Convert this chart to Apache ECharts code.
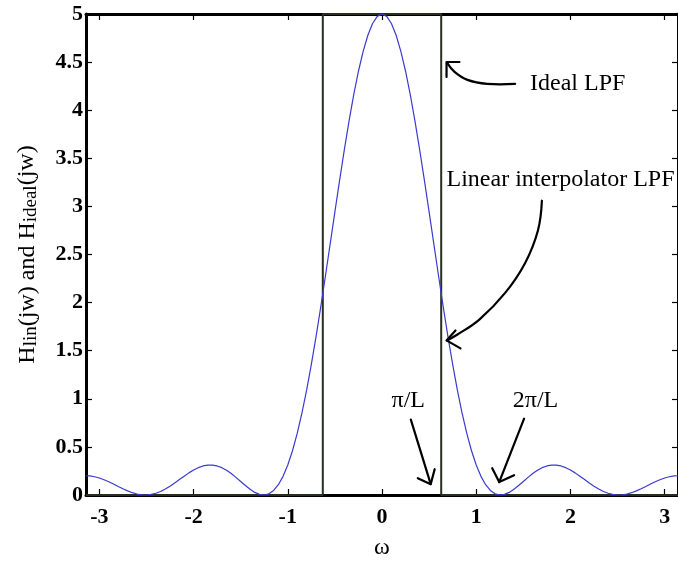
<!DOCTYPE html>
<html>
<head>
<meta charset="utf-8">
<script src="https://cdn.jsdelivr.net/npm/echarts@6/dist/echarts.min.js"></script>
<style>html,body{margin:0;padding:0;background:#fff;}#c{width:678px;height:565px;}</style>
</head>
<body>
<div id="c"></div>
<script>
// ---- data ----
const omega = [-3.1416,-3.1,-3.05,-3,-2.95,-2.9,-2.85,-2.8,-2.75,-2.7,-2.65,-2.6,-2.55,-2.5,-2.45,-2.4,-2.35,-2.3,-2.25,-2.2,-2.15,-2.1,-2.05,-2,-1.95,-1.9,-1.85,-1.8,-1.75,-1.7,-1.65,-1.6,-1.55,-1.5,-1.45,-1.4,-1.35,-1.3,-1.25,-1.2,-1.15,-1.1,-1.05,-1,-0.95,-0.9,-0.85,-0.8,-0.75,-0.7,-0.65,-0.6,-0.55,-0.5,-0.45,-0.4,-0.35,-0.3,-0.25,-0.2,-0.15,-0.1,-0.05,0,0.05,0.1,0.15,0.2,0.25,0.3,0.35,0.4,0.45,0.5,0.55,0.6,0.65,0.7,0.75,0.8,0.85,0.9,0.95,1,1.05,1.1,1.15,1.2,1.25,1.3,1.35,1.4,1.45,1.5,1.55,1.6,1.65,1.7,1.75,1.8,1.85,1.9,1.95,2,2.05,2.1,2.15,2.2,2.25,2.3,2.35,2.4,2.45,2.5,2.55,2.6,2.65,2.7,2.75,2.8,2.85,2.9,2.95,3,3.05,3.1,3.1416];
const hLin = [0.2,0.198,0.190,0.177,0.159,0.138,0.114,0.089,0.065,0.043,0.024,0.010,0.002,0.000,0.006,0.018,0.037,0.062,0.092,0.125,0.161,0.196,0.230,0.260,0.284,0.302,0.311,0.311,0.302,0.284,0.257,0.223,0.183,0.141,0.098,0.059,0.027,0.006,0.000,0.012,0.047,0.107,0.194,0.312,0.460,0.640,0.851,1.090,1.357,1.647,1.956,2.279,2.610,2.943,3.271,3.588,3.887,4.161,4.405,4.612,4.779,4.901,4.975,5,4.975,4.901,4.779,4.612,4.405,4.161,3.887,3.588,3.271,2.943,2.610,2.279,1.956,1.647,1.357,1.090,0.851,0.640,0.460,0.312,0.194,0.107,0.047,0.012,0.000,0.006,0.027,0.059,0.098,0.141,0.183,0.223,0.257,0.284,0.302,0.311,0.311,0.302,0.284,0.260,0.230,0.196,0.161,0.125,0.092,0.062,0.037,0.018,0.006,0.000,0.002,0.010,0.024,0.043,0.065,0.089,0.114,0.138,0.159,0.177,0.190,0.198,0.2];
const idealX = [-3.1416,-0.6283,-0.6283,0.6283,0.6283,3.1416];
const idealY = [0,0,5,5,0,0];
const xTicks = [-3,-2,-1,0,1,2,3];
const yTicks = [0,0.5,1,1.5,2,2.5,3,3.5,4,4.5,5];
const xRange = [-3.1416, 3.1416];
const yRange = [0, 5];

// annotations (data units)
const annIdealText = [1.571, 4.274];
const annIdealCurve = [[1.413,4.274],[1.117,4.274],[0.907,4.315],[0.770,4.398],[0.690,4.495]];
const annIdealHead = [[0.685,4.346],[0.685,4.501],[0.822,4.501]];
const annLinText = [0.685, 3.275];
const annLinCurve = [[1.697,3.059],[1.655,2.750],[1.518,2.410],[1.307,2.101],[1.033,1.823],[0.801,1.668],[0.690,1.607]];
const annLinHead = [[0.780,1.710],[0.685,1.607],[0.833,1.524]];
const annPiText = [0.279, 0.978];
const annPiLine = [[0.306,0.783],[0.517,0.113]];
const annPiHead = [[0.380,0.175],[0.517,0.113],[0.559,0.268]];
const ann2PiText = [1.629, 0.978];
const ann2PiLine = [[1.508,0.793],[1.244,0.134]];
const ann2PiHead = [[1.170,0.278],[1.244,0.134],[1.402,0.206]];

const chart = echarts.init(document.getElementById('c'), null, {renderer:'canvas'});
const SERIF = '"Liberation Serif", "Times New Roman", serif';
const axLine = {show:true, onZero:false, lineStyle:{color:'#000', width:3}};
const axTick = (vals)=>({show:true, inside:true, length:6, customValues:vals, lineStyle:{color:'#000', width:1.2}});

chart.setOption({
  animation:false,
  backgroundColor:'#fff',
  textStyle:{fontFamily:SERIF},
  grid:{left:86, right:-4, top:14, bottom:66, containLabel:false},
  xAxis:[
    {type:'value', position:'bottom', min:xRange[0], max:xRange[1],
     axisLine:axLine, axisTick:axTick(xTicks),
     axisLabel:{customValues:xTicks, margin:11, fontFamily:SERIF, fontSize:22, fontWeight:'bold', color:'#000'},
     splitLine:{show:false},
     name:'ω', nameLocation:'middle', nameGap:41,
     nameTextStyle:{fontFamily:SERIF, fontSize:24, color:'#000'}},
    {type:'value', position:'top', min:xRange[0], max:xRange[1],
     axisLine:axLine, axisTick:axTick(xTicks), axisLabel:{show:false}, splitLine:{show:false}}
  ],
  yAxis:[
    {type:'value', position:'left', min:yRange[0], max:yRange[1], interval:0.5,
     axisLine:axLine, axisTick:axTick(yTicks),
     axisLabel:{margin:3, fontFamily:SERIF, fontSize:22, fontWeight:'bold', color:'#000'},
     splitLine:{show:false},
     name:'{n|H}{s|lin}{n|(jw) and H}{s|ideal}{p|(jw)}', nameLocation:'middle', nameGap:45,
     nameTextStyle:{fontFamily:SERIF, color:'#000',
       rich:{
         n:{fontFamily:SERIF, fontSize:24, color:'#000', lineHeight:26, verticalAlign:'middle'},
         s:{fontFamily:SERIF, fontSize:19, color:'#000', lineHeight:18, verticalAlign:'bottom'},
         p:{fontFamily:SERIF, fontSize:24, color:'#000', lineHeight:22, verticalAlign:'top'}
       }}},
    {type:'value', position:'right', min:yRange[0], max:yRange[1], interval:0.5,
     axisLine:axLine, axisTick:axTick(yTicks), axisLabel:{show:false}, splitLine:{show:false}}
  ],
  series:[
    {type:'line', name:'Ideal LPF', data:idealX.map((x,i)=>[x,idealY[i]]), showSymbol:false, clip:false,
     lineStyle:{color:'#27301f', width:2}, z:2},
    {type:'line', name:'Linear interpolator LPF', data:omega.map((x,i)=>[x,hLin[i]]), showSymbol:false, clip:true,
     smooth:false, lineStyle:{color:'#3a3ad0', width:1.2}, z:3}
  ]
});

const P = p => chart.convertToPixel({gridIndex:0}, p);
const annFont = {fontFamily:SERIF, fontSize:24, fill:'#000'};
const txt = (t, p, align) => { const q = P(p); return {type:'text', z:10, style:Object.assign({text:t, x:q[0], y:q[1], align:align, verticalAlign:'middle'}, annFont)}; };
const pl = (pts, smooth) => ({type:'polyline', z:10, shape:{points:pts.map(P), smooth:smooth||0}, style:{stroke:'#000', lineWidth:2.2, fill:null, lineJoin:'round', lineCap:'round'}});

chart.setOption({graphic:[
  txt('Ideal LPF', annIdealText, 'left'),
  pl(annIdealCurve, 0.4), pl(annIdealHead),
  txt('Linear interpolator LPF', annLinText, 'left'),
  pl(annLinCurve, 0.4), pl(annLinHead),
  txt('π/L', annPiText, 'center'),
  pl(annPiLine), pl(annPiHead),
  txt('2π/L', ann2PiText, 'center'),
  pl(ann2PiLine), pl(ann2PiHead)
]});
</script>
</body>
</html>
